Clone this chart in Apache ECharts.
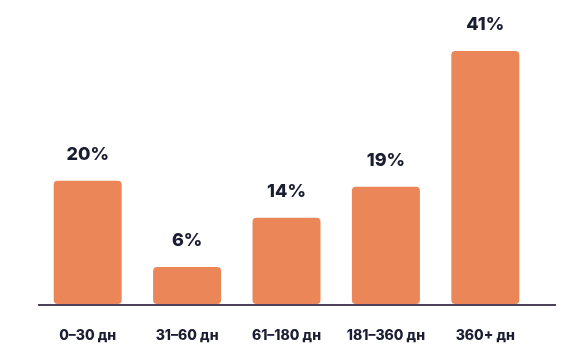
<!DOCTYPE html>
<html>
<head>
<meta charset="utf-8">
<script src="https://cdn.jsdelivr.net/npm/echarts@6/dist/echarts.min.js"></script>
<style>
  html, body { margin: 0; padding: 0; background: #fff; }
  #chart { width: 569px; height: 354px; }
</style>
</head>
<body>
<div id="chart"></div>
<script>
const categories = ["0–30 дн", "31–60 дн", "61–180 дн", "181–360 дн", "360+ дн"];
const shares = [20, 6, 14, 19, 41];

const myChart = echarts.init(document.getElementById("chart"));

const option = {
  animation: false,
  grid: { left: 38, right: 34, top: 48, bottom: 50 },
  xAxis: {
    type: "category",
    data: categories,
    axisLine: { show: false },
    axisTick: { show: false },
    axisLabel: {
      interval: 0,
      hideOverlap: false,
      margin: 25,
      fontFamily: "Inter",
      fontWeight: 800,
      fontSize: 14,
      color: "#1b1e33"
    }
  },
  yAxis: {
    type: "value",
    min: 0,
    max: 41.5,
    show: false,
    splitLine: { show: false }
  },
  series: [
    {
      type: "bar",
      data: shares,
      barWidth: 68,
      itemStyle: { color: "#eb8659", borderRadius: 4 },
      label: {
        show: true,
        position: "top",
        distance: 17,
        formatter: "{c}%",
        fontFamily: "Inter",
        fontWeight: 800,
        fontSize: 18,
        color: "#1b1e33"
      }
    }
  ],
  // axis line runs a bit past the last bar
  graphic: [
    {
      type: "line",
      shape: { x1: 38, y1: 305, x2: 556, y2: 305 },
      style: { stroke: "#4b4259", lineWidth: 2 },
      z: 10
    }
  ]
};

myChart.setOption(option);
</script>
</body>
</html>
